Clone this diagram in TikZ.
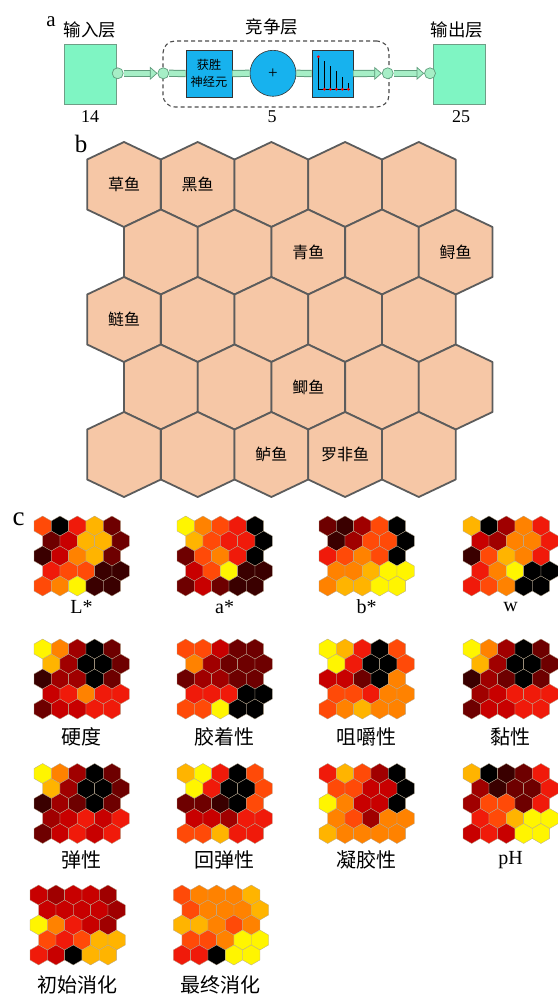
\documentclass[tikz,border=0pt]{standalone}
\usepackage{fontspec}
\setmainfont{Liberation Serif}
\newfontfamily\cjk{Noto Sans CJK SC}
\usetikzlibrary{arrows.meta,calc}

\definecolor{mint}{HTML}{7FF5C3}
\definecolor{mintedge}{HTML}{6E9E86}
\definecolor{barfill}{HTML}{A6EEC6}
\definecolor{baredge}{HTML}{5F9C7C}
\definecolor{cyanbox}{HTML}{17B2EE}
\definecolor{peach}{HTML}{F6C7A6}
\definecolor{hexline}{HTML}{5C5C5C}
\definecolor{hexrim}{HTML}{B8A890}
% hot colour map, dark to light
\definecolor{h0}{HTML}{000000}
\definecolor{h1}{HTML}{3A0000}
\definecolor{h2}{HTML}{6E0000}
\definecolor{h3}{HTML}{A00000}
\definecolor{h4}{HTML}{C80000}
\definecolor{h5}{HTML}{F01A0A}
\definecolor{h6}{HTML}{FF4A08}
\definecolor{h7}{HTML}{FF8200}
\definecolor{h8}{HTML}{FFB400}
\definecolor{h9}{HTML}{FFF500}

\begin{document}
\begin{tikzpicture}[x=1pt, y=-1pt,
    layer/.style={draw=mintedge, fill=mint, line width=0.8pt, minimum width=52pt, minimum height=60pt, inner sep=0pt},
    joint/.style={circle, draw=baredge, fill=barfill, line width=0.7pt, minimum size=11pt, inner sep=0pt},
    unit/.style={draw=black!80, fill=cyanbox, line width=0.6pt, minimum height=47pt, inner sep=0pt},
    barout/.style={draw=baredge, line width=7.2pt},
    barin/.style={draw=barfill, line width=5.2pt},
    fathead/.style={-{Triangle[length=7.5pt, width=13pt, color=baredge, fill=barfill, line width=0.7pt]}},
    title/.style={font=\cjk\fontsize{17.5}{20}\selectfont},
    numlab/.style={font=\fontsize{18}{20}\selectfont},
    panel/.style={font=\fontsize{25}{26}\selectfont},
    cell/.style={fill=peach, draw=hexline, line width=1.8pt, line join=round},
    fish/.style={font=\cjk\fontsize{16}{18}\selectfont},
    mapcell/.style={draw=hexrim, line width=0.3pt},
    maplab/.style={font=\fontsize{20}{22}\selectfont}
]
    \useasboundingbox (0,0) rectangle (557,995);

    % (a) network
    \node[font=\fontsize{21}{22}\selectfont] (pa) at (51,22) {a};
    \node[layer] (inp) at (90,74) {};
    \node[layer] (outp) at (459,74) {};
    \node[title] (inptitle) at (90,30) {输入层};
    \node[title] (outtitle) at (457,30) {输出层};
    \node[title] (comptitle) at (272,27) {竞争层};
    \node[numlab] (inpnum) at (90,117) {14};
    \node[numlab] (outnum) at (461,117) {25};
    \node[numlab] (compnum) at (272,117) {5};
    \node[draw=black!70, dash pattern=on 4pt off 3pt, line width=1.1pt, rounded corners=12pt,
        minimum width=226pt, minimum height=66pt] (comp) at (276,74) {};

    \node[joint] (j1) at (117.7,73.3) {};
    \node[joint] (j2) at (163.3,73.3) {};
    \node[joint] (j3) at (387.7,73.3) {};
    \node[joint] (j4) at (430,73.3) {};
    \node[unit, minimum width=46pt, align=center, font=\cjk\fontsize{12.2}{16.5}\selectfont] (win) at (209,73.5) {获胜\\神经元};
    \node[circle, draw=black!80, fill=cyanbox, line width=0.6pt, minimum size=46pt, inner sep=0pt,
        font=\fontsize{17}{17}\selectfont] (sum) at (273,73.3) {+};
    \node[unit, minimum width=41pt] (plot) at (332.5,73.5) {};

    \foreach \a/\b in {j2.east/win.west, win.east/sum.west, sum.east/plot.west} {
        \draw[barout] (\a) -- (\b);
        \draw[barin] (\a) -- (\b);
    }
    \foreach \a/\b in {j1.east/j2.west, plot.east/j3.west, j3.east/j4.west} {
        \draw[barout, shorten >=6.5pt] (\a) -- (\b);
        \draw[barin, fathead] (\a) -- (\b);
    }

    % stems of the winner plot
    \draw[line width=0.8pt] (317.5,89.3) -- (349.5,89.3);
    \foreach \sx/\sy in {318.3/56.7, 324.3/61.5, 330.3/66.5, 336.3/71.5, 342.3/77, 348.3/83}
        \draw[line width=0.9pt] (\sx,89.3) -- (\sx,\sy);
    \fill[red] (318.3,56.7) circle (1.5);
    \foreach \sx in {324.3,330.3,336.3,342.3,348.3}
        \fill[red] (\sx,89.3) circle (1.5);

    % (b) fish map
    \node[panel] (pb) at (81,144) {b};
    \foreach \hrow in {0,...,4} {
        \foreach \hcol in {0,...,4} {
            \pgfmathsetmacro{\hx}{124+73.7*\hcol+36.85*mod(\hrow,2)}
            \pgfmathsetmacro{\hy}{184.5+67.5*\hrow}
            \draw[cell] (\hx,\hy) +(0,-42.5) -- +(36.85,-25) -- +(36.85,25) -- +(0,42.5)
                -- +(-36.85,25) -- +(-36.85,-25) -- cycle;
            \coordinate (b\hrow\hcol) at (\hx,\hy);
        }
    }
    \node[fish] (caoyu) at (b00) {草鱼};
    \node[fish] (heiyu) at (b01) {黑鱼};
    \node[fish] (qingyu) at (b12) {青鱼};
    \node[fish] (xunyu) at (b14) {鲟鱼};
    \node[fish] (lianyu) at (b20) {鲢鱼};
    \node[fish] (jiyu) at (b32) {鲫鱼};
    \node[fish] (luyu) at (b42) {鲈鱼};
    \node[fish] (luofeiyu) at (b43) {罗非鱼};

    % (c) component planes
    \node[panel, font=\fontsize{27}{28}\selectfont] (pc) at (18.7,519) {c};
    \foreach \mx/\my/\ly/\lab/\vals [count=\k] in {
        34/516/607/{L*}/{6,0,5,8,2,2,4,8,8,2,1,4,7,8,2,5,6,6,1,1,6,7,9,1,1},
        177/516/607/{a*}/{9,7,6,5,0,8,6,5,5,0,2,6,7,5,0,4,6,9,1,1,2,4,2,1,1},
        319/516/607/{b*}/{2,1,3,6,0,1,3,6,6,0,5,6,7,6,0,7,7,8,9,9,7,8,8,9,9},
        463/516/607/{w}/{8,0,3,7,5,4,3,7,7,5,1,6,8,7,5,5,7,9,0,0,5,6,7,0,0},
        34/639/737/{\cjk 硬度}/{9,7,3,0,2,8,3,0,0,2,1,3,3,0,2,4,5,7,5,5,2,4,4,5,5},
        177/639/737/{\cjk 胶着性}/{6,6,4,2,2,7,3,2,2,2,2,3,3,2,2,5,5,5,0,0,6,6,9,0,0},
        319/639/737/{\cjk 咀嚼性}/{9,8,5,0,6,9,5,0,0,6,4,4,2,0,7,6,6,5,7,7,6,7,8,7,7},
        463/639/737/{\cjk 黏性}/{9,7,3,0,2,8,3,0,0,2,1,3,2,0,2,3,4,5,5,5,2,4,4,5,5},
        34/763.5/860/{\cjk 弹性}/{9,7,3,0,2,8,3,0,0,2,1,3,2,0,2,3,4,5,4,5,2,4,5,4,5},
        177/763.5/860/{\cjk 回弹性}/{8,9,5,0,6,9,5,0,0,6,2,2,1,0,6,4,4,3,5,5,6,6,8,5,5},
        319/763.5/860/{\cjk 凝胶性}/{5,8,6,3,0,6,6,4,4,0,9,7,4,4,0,7,6,3,7,7,8,7,7,7,7},
        463/763.5/860/{pH}/{8,0,1,2,5,3,1,2,2,5,3,6,6,2,5,5,6,8,9,9,4,5,4,9,9},
        30/885/985/{\cjk 初始消化}/{4,3,4,4,3,4,4,4,4,3,9,7,5,4,3,6,5,6,8,8,5,4,0,8,8},
        173.3/885/985/{\cjk 最终消化}/{6,7,7,7,8,6,7,7,7,8,8,8,7,6,7,6,6,7,9,9,5,5,0,9,9}} {
        \foreach \cv [count=\ci from 0] in \vals {
            \pgfmathtruncatemacro{\hrow}{div(\ci,5)}
            \pgfmathtruncatemacro{\hcol}{mod(\ci,5)}
            \pgfmathsetmacro{\hx}{\mx+8.66+17.32*\hcol+8.66*mod(\hrow,2)}
            \pgfmathsetmacro{\hy}{\my+10+15*\hrow}
            \filldraw[mapcell, fill=h\cv] (\hx,\hy) +(90:10) -- +(30:10) -- +(-30:10) -- +(-90:10)
                -- +(-150:10) -- +(150:10) -- cycle;
        }
        \node[maplab] (map\k) at (\mx+47.6,\ly) {\lab};
    }
\end{tikzpicture}
\end{document}
